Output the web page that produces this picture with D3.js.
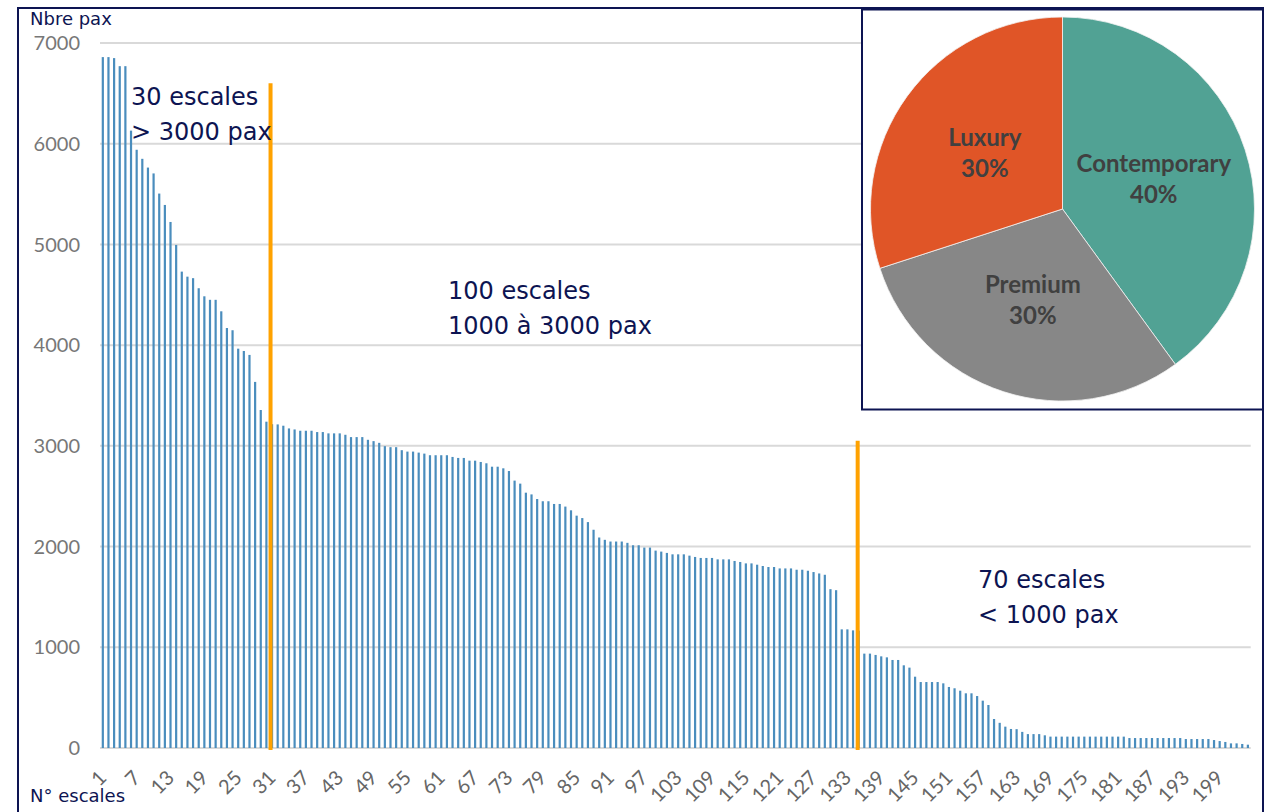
<!DOCTYPE html>
<html>
<head>
<meta charset="utf-8">
<script src="https://cdn.jsdelivr.net/npm/d3@7"></script>
<style>
  body { margin: 0; background: #fff; }
  svg { display: block; }
</style>
</head>
<body>
<svg width="1273" height="812"></svg>
<script>
// passengers per call, sorted descending
var paxValues = [
  6860, 6860, 6850, 6770, 6770, 6130, 5940, 5850, 5763, 5705,
  5505, 5392, 5223, 4995, 4730, 4680, 4665, 4565, 4485, 4450,
  4450, 4336, 4170, 4148, 3965, 3942, 3903, 3635, 3356, 3240,
  3215, 3213, 3200, 3173, 3163, 3150, 3150, 3150, 3137, 3137,
  3124, 3124, 3124, 3110, 3087, 3087, 3087, 3060, 3047, 3030,
  2997, 2987, 2987, 2957, 2943, 2943, 2933, 2923, 2907, 2907,
  2907, 2907, 2890, 2880, 2880, 2853, 2853, 2840, 2827, 2793,
  2793, 2777, 2750, 2655, 2625, 2535, 2518, 2472, 2450, 2450,
  2423, 2423, 2397, 2360, 2307, 2283, 2243, 2167, 2090, 2067,
  2050, 2050, 2050, 2037, 2013, 2013, 1990, 1990, 1960, 1950,
  1937, 1923, 1923, 1923, 1910, 1897, 1887, 1887, 1887, 1873,
  1873, 1873, 1857, 1847, 1833, 1833, 1820, 1807, 1797, 1797,
  1783, 1783, 1783, 1770, 1770, 1760, 1747, 1733, 1720, 1577,
  1567, 1178, 1178, 1168, 1165, 937, 937, 924, 910, 900,
  874, 874, 821, 798, 708, 655, 655, 655, 655, 642,
  606, 593, 569, 543, 543, 516, 470, 427, 288, 250,
  212, 189, 187, 160, 138, 138, 138, 126, 113, 113,
  113, 113, 113, 113, 113, 113, 113, 113, 113, 113,
  113, 113, 99, 99, 99, 99, 99, 99, 99, 99,
  99, 99, 89, 89, 89, 89, 89, 79, 69, 60,
  46, 46, 40, 33
];
var escaleIds = paxValues.map(function(d, i) { return String(i + 1); });
var xTickLabels = ["1","7","13","19","25","31","37","43","49","55","61","67","73","79","85","91","97",
  "103","109","115","121","127","133","139","145","151","157","163","169","175","181","187","193","199"];
var yTicks = [0, 1000, 2000, 3000, 4000, 5000, 6000, 7000];

var segmentNames  = ["Contemporary", "Premium", "Luxury"];
var segmentShares = [40, 30, 30];
var segmentColors = ["#51a294", "#878787", "#e05527"];

var noteLines = [
  ["30 escales", "> 3000 pax"],
  ["100 escales", "1000 \u00e0 3000 pax"],
  ["70 escales", "< 1000 pax"]
];
// split lines: [category, top value]
var splitMarks = [["31", 6600], ["135", 3050]];

var navy = "#0d1452";
var svg = d3.select("svg");

var x = d3.scaleBand().domain(escaleIds).range([100, 1250.7]).padding(0);
var y = d3.scaleLinear().domain([0, 7000]).range([748, 43]);
var bw = x.bandwidth();

// outer frame
svg.append("rect")
  .attr("x", 18).attr("y", 8)
  .attr("width", 1245).attr("height", 830)
  .style("fill", "none").style("stroke", navy).style("stroke-width", 2);

// gridlines
svg.selectAll("line.grid")
  .data(yTicks)
  .enter()
  .append("line")
  .attr("class", "grid")
  .attr("x1", 100).attr("x2", 1250.7)
  .attr("y1", function(d) { return y(d); })
  .attr("y2", function(d) { return y(d); })
  .style("stroke", "#d9d9d9")
  .style("stroke-width", 2);

// y labels
svg.selectAll("text.ylab")
  .data(yTicks)
  .enter()
  .append("text")
  .attr("class", "ylab")
  .attr("x", 80)
  .attr("y", function(d) { return y(d); })
  .attr("dy", "0.36em")
  .attr("text-anchor", "end")
  .style("font-family", "Lato, 'Liberation Sans', sans-serif")
  .style("font-size", "20px")
  .style("fill", "#777")
  .text(function(d) { return d; });

// bars
var barW = 2.2;
svg.selectAll("rect.bar")
  .data(paxValues)
  .enter()
  .append("rect")
  .attr("class", "bar")
  .attr("x", function(d, i) { return x(escaleIds[i]) + bw / 2 - barW / 2; })
  .attr("width", barW)
  .attr("y", function(d) { return y(d); })
  .attr("height", function(d) { return y(0) - y(d); })
  .style("fill", "#4a8dbd");

// x labels, rotated
svg.selectAll("text.xlab")
  .data(xTickLabels)
  .enter()
  .append("text")
  .attr("class", "xlab")
  .attr("transform", function(d) {
    return "translate(" + (x(d) + bw / 2 + 5) + ",779) rotate(-45)";
  })
  .attr("text-anchor", "end")
  .style("font-family", "Lato, 'Liberation Sans', sans-serif")
  .style("font-size", "20px")
  .style("fill", "#666")
  .text(function(d) { return d; });

// orange split lines
svg.selectAll("line.split")
  .data(splitMarks)
  .enter()
  .append("line")
  .attr("class", "split")
  .attr("x1", function(d, i) { return x(d[0]) + bw / 2 - (i == 0 ? 1.5 : 1); })
  .attr("x2", function(d, i) { return x(d[0]) + bw / 2 - (i == 0 ? 1.5 : 1); })
  .attr("y1", function(d) { return y(d[1]); })
  .attr("y2", y(0) + 2)
  .style("stroke", "#ffa200")
  .style("stroke-width", 4);

// annotations
var notePos = [[131, 105], [448, 299], [978, 588]];
noteLines.forEach(function(lines, i) {
  var t = svg.append("text")
    .style("font-family", "'DejaVu Sans', sans-serif")
    .style("font-size", "24px")
    .style("fill", navy);
  lines.forEach(function(s, j) {
    t.append("tspan")
      .attr("x", notePos[i][0])
      .attr("y", notePos[i][1] + j * 34.5)
      .text(s);
  });
});

// axis titles
svg.append("text").attr("x", 30).attr("y", 25)
  .style("font-family", "'DejaVu Sans', sans-serif").style("font-size", "18px")
  .style("fill", navy).text("Nbre pax");
svg.append("text").attr("x", 30).attr("y", 802)
  .style("font-family", "'DejaVu Sans', sans-serif").style("font-size", "18px")
  .style("fill", navy).text("N\u00b0 escales");

// pie inset
svg.append("rect")
  .attr("x", 862).attr("y", 9.5)
  .attr("width", 401).attr("height", 400)
  .style("fill", "#fff").style("stroke", navy).style("stroke-width", 2);

var pieG = svg.append("g").attr("transform", "translate(1062.5,209)");
var pie = d3.pie().sort(null).value(function(d) { return d; });
var arc = d3.arc().innerRadius(0).outerRadius(192);
var arcs = pie(segmentShares);

pieG.selectAll("path")
  .data(arcs)
  .enter()
  .append("path")
  .attr("d", arc)
  .style("fill", function(d, i) { return segmentColors[i]; })
  .style("stroke", "#f2f2f2")
  .style("stroke-width", 0.8);

arcs.forEach(function(a, i) {
  var c = arc.centroid(a);
  var t = pieG.append("text")
    .attr("text-anchor", "middle")
    .style("font-family", "Lato, 'Liberation Sans', sans-serif")
    .style("font-weight", "bold")
    .style("font-size", "24px")
    .style("fill", "#404040");
  t.append("tspan").attr("x", c[0]).attr("y", c[1] - 7).text(segmentNames[i]);
  t.append("tspan").attr("x", c[0]).attr("y", c[1] + 24).text(segmentShares[i] + "%");
});
</script>
</body>
</html>
